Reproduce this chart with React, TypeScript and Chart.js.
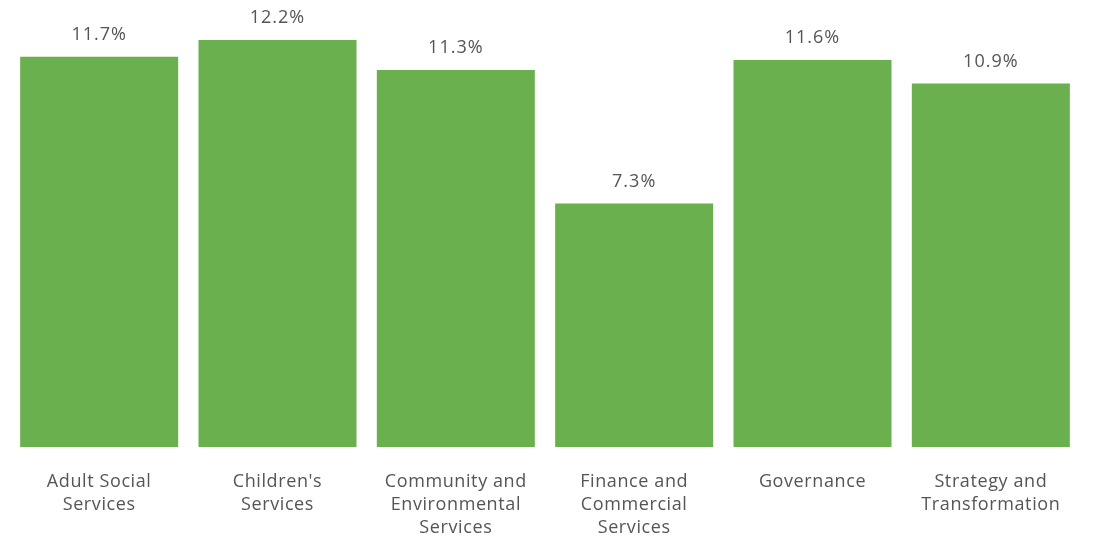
import React, { useEffect, useRef } from "react";
import { Chart, registerables } from "chart.js";

Chart.register(...registerables);

const categories: string[][] = [
  ["Adult Social", "Services"],
  ["Children's", "Services"],
  ["Community and", "Environmental", "Services"],
  ["Finance and", "Commercial", "Services"],
  ["Governance"],
  ["Strategy and", "Transformation"],
];
const values: number[] = [11.7, 12.2, 11.3, 7.3, 11.6, 10.9];
const valueLabels: string[] = ["11.7%", "12.2%", "11.3%", "7.3%", "11.6%", "10.9%"];

const BAR_COLOR = "#6AB04E";
const TEXT_COLOR = "#555555";
const FONT = "'Open Sans'";

const spacingPlugin = {
  id: "spacing",
  beforeDraw(chart: any) {
    chart.ctx.letterSpacing = "0.6px";
  },
};

const valueLabelPlugin = {
  id: "valueLabels",
  afterDatasetsDraw(chart: any) {
    const ctx = chart.ctx;
    const meta = chart.getDatasetMeta(0);
    ctx.save();
    ctx.letterSpacing = "1px";
    ctx.font = `18px ${FONT}`;
    ctx.fillStyle = TEXT_COLOR;
    ctx.textAlign = "center";
    ctx.textBaseline = "middle";
    meta.data.forEach((bar: any, i: number) => {
      ctx.fillText(valueLabels[i], bar.x, bar.y - 22);
    });
    ctx.restore();
  },
};

export default function App() {
  const ref = useRef<HTMLCanvasElement | null>(null);
  useEffect(() => {
    if (!ref.current) return;
    const chart = new Chart(ref.current, {
      type: "bar",
      data: {
        labels: categories,
        datasets: [
          {
            data: values,
            backgroundColor: BAR_COLOR,
            borderWidth: 0,
            categoryPercentage: 1,
            barPercentage: 0.886,
          },
        ],
      },
      options: {
        animation: false,
        responsive: false,
        maintainAspectRatio: false,
        layout: { padding: { left: 10, right: 16, top: 0, bottom: 0 } },
        plugins: {
          legend: { display: false },
          tooltip: { enabled: false },
        },
        scales: {
          y: { display: false, min: 0, max: 13.4 },
          x: {
            grid: { display: false, drawTicks: false },
            border: { display: false },
            afterFit: (scale: any) => {
              scale.height = 92;
            },
            ticks: {
              color: TEXT_COLOR,
              font: { family: FONT, size: 18, lineHeight: 23 / 18 },
              padding: 23,
              maxRotation: 0,
              autoSkip: false,
            },
          },
        },
      },
      plugins: [spacingPlugin, valueLabelPlugin],
    });
    return () => chart.destroy();
  }, []);
  return (
    <div style={{ position: "fixed", left: 0, top: 0, width: 1096, height: 539, background: "#fff" }}>
      <canvas ref={ref} width={1096} height={539} style={{ display: "block", width: 1096, height: 539 }} />
    </div>
  );
}
